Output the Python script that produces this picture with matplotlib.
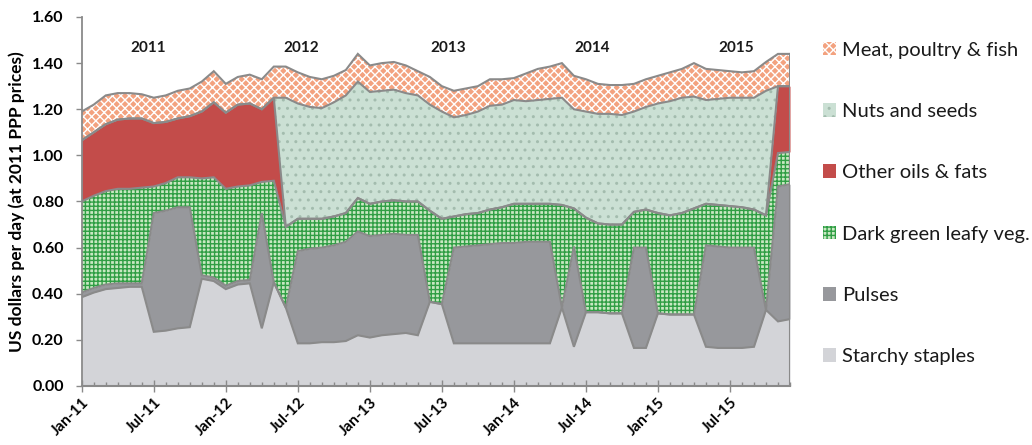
import numpy as np
import matplotlib
matplotlib.use("Agg")
import matplotlib.pyplot as plt
from matplotlib.patches import Patch
from matplotlib.ticker import FixedLocator, MultipleLocator

# ---------------- data ----------------
tick_labels = ["Jan-11", "Jul-11", "Jan-12", "Jul-12", "Jan-13", "Jul-13",
               "Jan-14", "Jul-14", "Jan-15", "Jul-15"]
year_labels = ["2011", "2012", "2013", "2014", "2015"]
year_label_pos = [5.5, 18.3, 30.5, 42.5, 54.5]

categories = ["Starchy staples", "Pulses", "Dark green leafy veg.",
              "Other oils & fats", "Nuts and seeds", "Meat, poultry & fish"]

starchy = [0.385, 0.405, 0.42, 0.425, 0.43, 0.43, 0.235, 0.24, 0.25, 0.255,
           0.465, 0.455, 0.42, 0.44, 0.445, 0.25, 0.45, 0.34, 0.185, 0.185,
           0.19, 0.19, 0.195, 0.22, 0.21, 0.22, 0.225, 0.23, 0.22, 0.365,
           0.355, 0.185, 0.185, 0.185, 0.185, 0.185, 0.185, 0.185, 0.185, 0.185,
           0.34, 0.17, 0.32, 0.32, 0.315, 0.315, 0.165, 0.165, 0.315, 0.31,
           0.31, 0.31, 0.17, 0.165, 0.165, 0.165, 0.17, 0.33, 0.28, 0.29]

pulses = [0.02, 0.02, 0.02, 0.02, 0.015, 0.015, 0.515, 0.52, 0.525, 0.52,
          0.015, 0.015, 0.015, 0.015, 0.015, 0.50, 0.0, 0.0, 0.40, 0.41,
          0.41, 0.42, 0.43, 0.45, 0.44, 0.435, 0.435, 0.425, 0.435, 0.0,
          0.0, 0.415, 0.42, 0.425, 0.43, 0.435, 0.435, 0.44, 0.44, 0.44,
          0.0, 0.435, 0.0, 0.0, 0.0, 0.0, 0.435, 0.435, 0.0, 0.0,
          0.0, 0.0, 0.44, 0.44, 0.435, 0.435, 0.43, 0.0, 0.585, 0.585]

dark_green = [0.395, 0.40, 0.405, 0.41, 0.41, 0.415, 0.115, 0.12, 0.13, 0.13,
              0.42, 0.435, 0.42, 0.41, 0.41, 0.135, 0.44, 0.35, 0.14, 0.13,
              0.125, 0.125, 0.125, 0.145, 0.14, 0.145, 0.145, 0.145, 0.145, 0.395,
              0.37, 0.135, 0.14, 0.14, 0.15, 0.155, 0.17, 0.165, 0.165, 0.165,
              0.445, 0.165, 0.41, 0.385, 0.385, 0.385, 0.155, 0.165, 0.435, 0.43,
              0.44, 0.46, 0.18, 0.18, 0.18, 0.175, 0.165, 0.41, 0.145, 0.14]

oils = [0.265, 0.275, 0.29, 0.30, 0.305, 0.30, 0.275, 0.265, 0.255, 0.265,
        0.29, 0.325, 0.33, 0.355, 0.355, 0.315, 0.36, 0.0, 0.0, 0.0,
        0.0, 0.0, 0.0, 0.0, 0.0, 0.0, 0.0, 0.0, 0.0, 0.0,
        0.0, 0.0, 0.0, 0.0, 0.0, 0.0, 0.0, 0.0, 0.0, 0.0,
        0.0, 0.0, 0.0, 0.0, 0.0, 0.0, 0.0, 0.0, 0.0, 0.0,
        0.0, 0.0, 0.0, 0.0, 0.0, 0.0, 0.0, 0.0, 0.29, 0.285]

nuts = [0.0, 0.0, 0.0, 0.0, 0.0, 0.0, 0.0, 0.0, 0.0, 0.0,
        0.0, 0.0, 0.0, 0.0, 0.0, 0.0, 0.0, 0.56, 0.50, 0.485,
        0.48, 0.495, 0.51, 0.505, 0.485, 0.48, 0.48, 0.47, 0.46, 0.46,
        0.465, 0.43, 0.43, 0.44, 0.45, 0.445, 0.45, 0.445, 0.45, 0.455,
        0.465, 0.43, 0.46, 0.475, 0.48, 0.475, 0.435, 0.445, 0.475, 0.495,
        0.50, 0.485, 0.45, 0.46, 0.47, 0.475, 0.485, 0.54, 0.0, 0.0]

meat = [0.125, 0.12, 0.125, 0.115, 0.11, 0.105, 0.11, 0.115, 0.12, 0.12,
        0.13, 0.135, 0.125, 0.12, 0.125, 0.13, 0.135, 0.135, 0.135, 0.13,
        0.125, 0.115, 0.11, 0.12, 0.115, 0.12, 0.12, 0.12, 0.105, 0.12,
        0.11, 0.115, 0.115, 0.11, 0.115, 0.11, 0.095, 0.12, 0.135, 0.14,
        0.15, 0.145, 0.14, 0.13, 0.125, 0.13, 0.12, 0.12, 0.12, 0.125,
        0.125, 0.145, 0.135, 0.125, 0.115, 0.11, 0.115, 0.125, 0.14, 0.14]

# ---------------- style ----------------
plt.rcParams["font.family"] = ["Lato", "DejaVu Sans"]
plt.rcParams["hatch.linewidth"] = 1.0

series = [starchy, pulses, dark_green, oils, nuts, meat]
faces = ["#d3d4d8", "#97989c", "#c8e8c2", "#c34c4a", "#cbe0d4", "#f3a27f"]
hatch_cols = ["#d3d4d8", "#97989c", "#2f9e44", "#c34c4a", "#a3bcae", "#ffffff"]
hatches = [None, None, "++++", None, "..", "xxxx"]
line_col = "#8a8a8a"

x = np.arange(len(starchy))

fig = plt.figure(figsize=(10.32, 4.45), dpi=100)
ax = fig.add_axes([0.0792, 0.1326, 0.6863, 0.8292])

base = np.zeros(len(x))
tops = []
for vals, fc, hc, h in zip(series, faces, hatch_cols, hatches):
    top = base + np.array(vals)
    ax.fill_between(x, base, top, facecolor=fc, edgecolor=hc, hatch=h,
                    linewidth=0, zorder=1)
    tops.append(top)
    base = top

for top in tops:
    ax.plot(x, top, color=line_col, lw=1.5, zorder=3, solid_joinstyle="miter")
ax.plot([x[-1], x[-1]], [0, tops[-1][-1]], color=line_col, lw=1.5, zorder=3)

ax.set_xlim(x[0], x[-1])
ax.set_ylim(0, 1.6)

for s in ["top", "right"]:
    ax.spines[s].set_visible(False)
ax.spines["left"].set_color(line_col)
ax.spines["left"].set_linewidth(1.3)
ax.spines["bottom"].set_color(line_col)
ax.spines["bottom"].set_linewidth(1.5)
ax.spines["bottom"].set_zorder(4)

ax.yaxis.set_major_locator(MultipleLocator(0.2))
ax.set_yticklabels([f"{v:.2f}" for v in ax.get_yticks()])
ax.tick_params(axis="y", direction="out", length=4, width=1, color=line_col,
               labelsize=11.5, pad=9)
for t in ax.get_yticklabels():
    t.set_fontweight("bold")

major_pos = x[::6][:len(tick_labels)]
ax.xaxis.set_major_locator(FixedLocator(major_pos))
ax.xaxis.set_minor_locator(FixedLocator(x))
ax.set_xticklabels(tick_labels, rotation=45, ha="right", va="top",
                   rotation_mode="anchor", fontweight="bold", fontsize=11)
ax.tick_params(axis="x", which="major", direction="inout", length=9, width=1,
               color=line_col, pad=2)
ax.tick_params(axis="x", which="minor", direction="in", length=3, width=1,
               color=line_col)

ax.set_ylabel("US dollars per day (at 2011 PPP prices)", fontsize=12.5,
              fontweight="bold", labelpad=5)

for lab, xp in zip(year_labels, year_label_pos):
    ax.text(xp, 1.465, lab, ha="center", va="center", fontsize=11,
            fontweight="bold", color="#1a1a1a")

handles = [Patch(facecolor=fc, edgecolor=hc, hatch=h, linewidth=0)
           for fc, hc, h in zip(faces, hatch_cols, hatches)]
leg = ax.legend(handles[::-1], categories[::-1], loc="upper left",
                bbox_to_anchor=(1.035, 0.955), frameon=False, fontsize=14.5,
                handlelength=0.65, handleheight=0.65, handletextpad=0.3,
                labelspacing=2.2, borderaxespad=0)
for t in leg.get_texts():
    t.set_color("#1a1a1a")

fig.savefig("out.png", dpi=100)
